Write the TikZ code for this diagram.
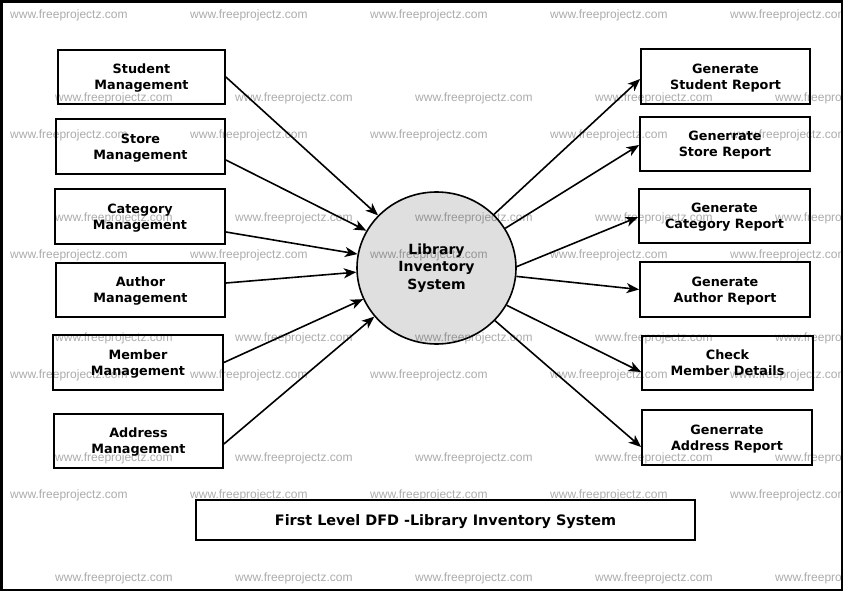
\documentclass[tikz,border=0pt]{standalone}
\usepackage{fontspec}
\setmainfont{DejaVu Sans}
\newfontfamily\wmfont{Liberation Sans}
\usetikzlibrary{arrows.meta,shapes.geometric}
\begin{document}
\begin{tikzpicture}[x=1pt,y=-1pt,
  dfdbox/.style={draw=black,line width=1.8pt,inner sep=0pt,align=center,text depth=-2pt,
    font=\fontsize{12.8}{16}\selectfont\bfseries},
  flow/.style={-{Stealth[length=12.5pt,width=10pt,inset=3.5pt]},line width=1.6pt},
  wmark/.style={anchor=west,inner sep=0pt,text=black,text opacity=0.33,
    font=\wmfont\fontsize{12}{14}\selectfont}]
\useasboundingbox (0,0) rectangle (846,593);
\fill[white] (0,0) rectangle (846,593);
\draw[line width=2.5pt] (1.5,1.5) rectangle (842,590);
% external entities (left)
\node[dfdbox,minimum width=167pt,minimum height=54pt] (sm) at (141.5,77) {Student\\Management};
\node[dfdbox,minimum width=169pt,minimum height=55pt] (stm) at (140.5,146.5) {Store\\Management};
\node[dfdbox,minimum width=170pt,minimum height=55pt] (cm) at (140,216.5) {Category\\Management};
\node[dfdbox,minimum width=169pt,minimum height=54pt] (am) at (140.5,290) {Author\\Management};
\node[dfdbox,minimum width=170pt,minimum height=55pt] (mm) at (138,362.5) {Member\\Management};
\node[dfdbox,minimum width=169pt,minimum height=54pt] (adm) at (138.5,441) {Address\\Management};
% outputs (right)
\node[dfdbox,minimum width=169pt,minimum height=55pt] (gsr) at (725.5,76.5) {Generate\\Student Report};
\node[dfdbox,minimum width=170pt,minimum height=54pt] (gstr) at (725,144) {Generrate\\Store Report};
\node[dfdbox,minimum width=171pt,minimum height=54pt] (gcr) at (724.5,216) {Generate\\Category Report};
\node[dfdbox,minimum width=170pt,minimum height=55pt] (gar) at (725,289.5) {Generate\\Author Report};
\node[dfdbox,minimum width=171pt,minimum height=54pt] (cmd) at (727.5,363) {Check\\Member Details};
\node[dfdbox,minimum width=170pt,minimum height=55pt] (gadr) at (727,437.5) {Generrate\\Address Report};
% process
\node[ellipse,draw=black,line width=1.6pt,fill=gray!25,minimum width=159pt,minimum height=152pt,inner sep=0pt,
  align=center,font=\fontsize{14}{17.5}\selectfont\bfseries] (proc) at (436.5,268) {Library\\Inventory\\System\hspace*{0pt}};
% title
\node[dfdbox,minimum width=499pt,minimum height=40pt,font=\fontsize{14.4}{17}\selectfont\bfseries] (title) at (445.5,520) {First Level DFD -Library Inventory System};
% flows in
\draw[flow] (sm.east) -- (proc.138.5);
\draw[flow] ([yshift=-13.5pt]stm.east) -- (proc.152.8);
\draw[flow] ([yshift=-15.5pt]cm.east) -- (proc.170.8);
\draw[flow] ([yshift=7pt]am.east) -- (proc.183.5);
\draw[flow] (mm.east) -- (proc.203.7);
\draw[flow] ([yshift=-3pt]adm.east) -- (proc.218.9);
% flows out
\draw[flow] (proc.43.5) -- ([yshift=-2.5pt]gsr.west);
\draw[flow] (proc.30.7) -- ([yshift=-1pt]gstr.west);
\draw[flow] (proc.1) -- ([yshift=-1pt]gcr.west);
\draw[flow] (proc.-6) -- (gar.west);
\draw[flow] (proc.-28) -- ([yshift=-9pt]cmd.west);
\draw[flow] (proc.-42.5) -- ([yshift=-9.5pt]gadr.west);
% watermarks
\begin{scope}
\clip (0,0) rectangle (842,590);
\foreach \r/\yy in {1/15,2/135,3/255,4/375,5/495}{
  \foreach \c/\xx in {1/10,2/190,3/370,4/550,5/730}{
    \node[wmark] (wa-\r-\c) at (\xx,\yy) {www.freeprojectz.com};
  }
}
\foreach \r/\yy in {1/98,2/218,3/338,4/458,5/578}{
  \foreach \c/\xx in {1/55,2/235,3/415,4/595,5/775}{
    \node[wmark] (wb-\r-\c) at (\xx,\yy) {www.freeprojectz.com};
  }
}
\end{scope}
\end{tikzpicture}
\end{document}
